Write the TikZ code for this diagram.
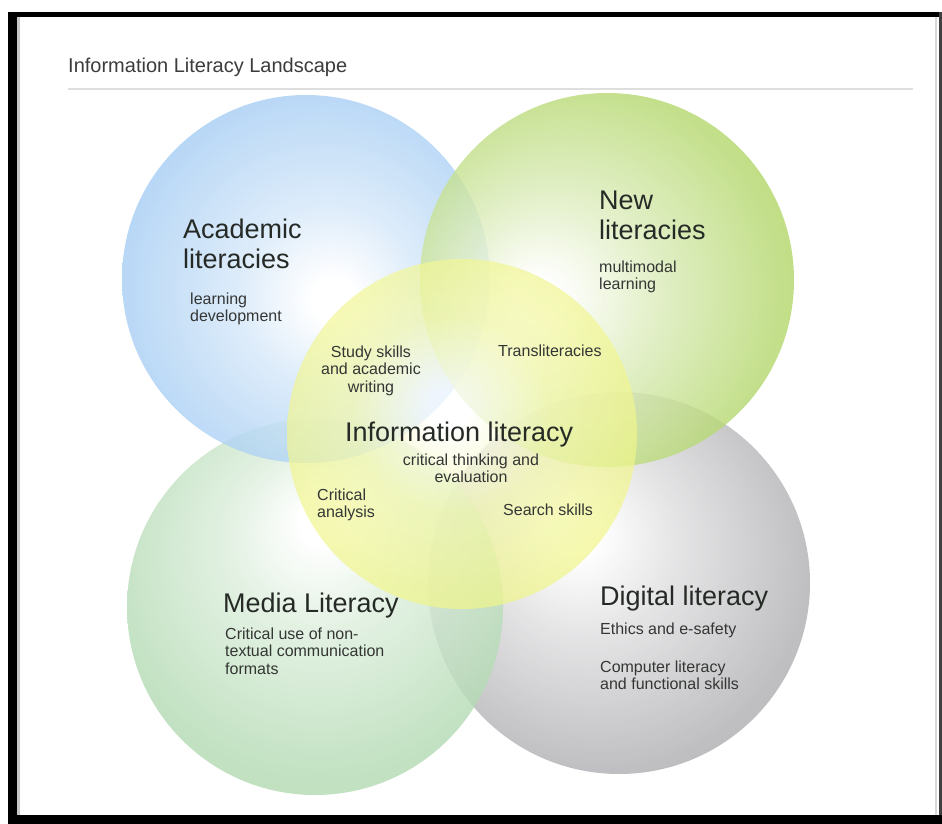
\documentclass[tikz,border=0pt]{standalone}
\usepackage{fontspec}
\setmainfont{Liberation Sans}
\definecolor{cBlue}{RGB}{138,190,240}
\definecolor{cGreen}{RGB}{155,202,60}
\definecolor{cMedia}{RGB}{158,208,158}
\definecolor{cGray}{RGB}{148,148,153}
\definecolor{cYellow}{RGB}{238,244,118}
\definecolor{headtxt}{RGB}{38,42,38}
\definecolor{smalltxt}{RGB}{52,54,52}
\definecolor{titletxt}{RGB}{60,60,60}
\pgfdeclareradialshading{shBlue}{\pgfpoint{4bp}{-3bp}}{color(0bp)=(white); color(3bp)=(white); color(12bp)=(cBlue!35!white); color(28bp)=(cBlue!78!white); color(50bp)=(cBlue)}
\pgfdeclareradialshading{shGreen}{\pgfpoint{-10bp}{-3bp}}{color(0bp)=(white); color(3bp)=(white); color(12bp)=(cGreen!30!white); color(28bp)=(cGreen!75!white); color(50bp)=(cGreen)}
\pgfdeclareradialshading{shYellow}{\pgfpoint{-2bp}{4bp}}{color(0bp)=(white); color(3bp)=(white); color(14bp)=(cYellow!60!white); color(34bp)=(cYellow); color(50bp)=(cYellow)}
\pgfdeclareradialshading{shMedia}{\pgfpoint{1bp}{12bp}}{color(0bp)=(white); color(3bp)=(white); color(12bp)=(cMedia!35!white); color(28bp)=(cMedia!78!white); color(50bp)=(cMedia)}
\pgfdeclareradialshading{shGray}{\pgfpoint{-6bp}{7bp}}{color(0bp)=(white); color(3bp)=(white); color(12bp)=(cGray!30!white); color(28bp)=(cGray!75!white); color(50bp)=(cGray)}
\tikzset{
  venn/.style={fill opacity=0.8},
  headlbl/.style={inner sep=0pt, text=headtxt, font=\fontsize{27}{30}\selectfont},
  smalllbl/.style={inner sep=0pt, text=smalltxt, font=\fontsize{16}{17.5}\selectfont},
}
\begin{document}
\begin{tikzpicture}[x=1pt,y=-1pt]
\useasboundingbox (0,0) rectangle (942,824);
\fill[white] (0,0) rectangle (942,824);
% frame
\fill[black] (8,12) rectangle (942,17);
\fill[black] (8,12) rectangle (17,824);
\fill[black] (8,815) rectangle (942,824);
\fill[black!75] (939,12) rectangle (942,815);
\fill[black!22] (17,17) rectangle (20,815);
\fill[black!15] (935,17) rectangle (937,815);
% title
\node[inner sep=0pt, anchor=base west, text=titletxt, font=\fontsize{20}{23}\selectfont] (title) at (68,73) {Information Literacy Landscape};
\draw[black!13, line width=1.2pt] (68,89) -- (913,89);
% circles
\shade[shading=shGray, venn] (619,583) circle[radius=191];
\shade[shading=shMedia, venn] (315,607) circle[radius=188];
\shade[shading=shBlue, venn] (306,279) circle[radius=184];
\shade[shading=shGreen, venn] (607,280) circle[radius=187];
\shade[shading=shYellow, fill opacity=0.7] (462,434) circle[radius=175];
% labels
\node[headlbl, anchor=north west, align=left] (acad) at (183,218.7) {Academic\\literacies};
\node[smalllbl, anchor=north west, align=left] (acadsub) at (190,292.5) {learning\\development};
\node[headlbl, anchor=north west, align=left] (newlit) at (599,190.7) {New\\literacies};
\node[smalllbl, anchor=north west, align=left] (newsub) at (599,260.5) {multimodal\\learning};
\node[smalllbl, anchor=north, align=center] (study) at (371,345.5) {Study skills\\and academic\\writing};
\node[smalllbl, anchor=base west] (trans) at (498,356) {Transliteracies};
\node[headlbl, anchor=base west] (infolit) at (345,441) {Information literacy};
\node[smalllbl, anchor=north, align=center] (infosub) at (471,453.5) {critical thinking and\\evaluation};
\node[smalllbl, anchor=north west, align=left] (critan) at (317,488.5) {Critical\\analysis};
\node[smalllbl, anchor=base west] (search) at (503,515) {Search skills};
\node[headlbl, anchor=base west] (media) at (223,612) {Media Literacy};
\node[smalllbl, anchor=north west, align=left] (mediasub) at (225,627.5) {Critical use of non-\\textual communication\\formats};
\node[headlbl, anchor=base west] (digital) at (600,605) {Digital literacy};
\node[smalllbl, anchor=base west] (ethics) at (600,634) {Ethics and e-safety};
\node[smalllbl, anchor=north west, align=left] (comp) at (600,660.5) {Computer literacy\\and functional skills};
\end{tikzpicture}
\end{document}
